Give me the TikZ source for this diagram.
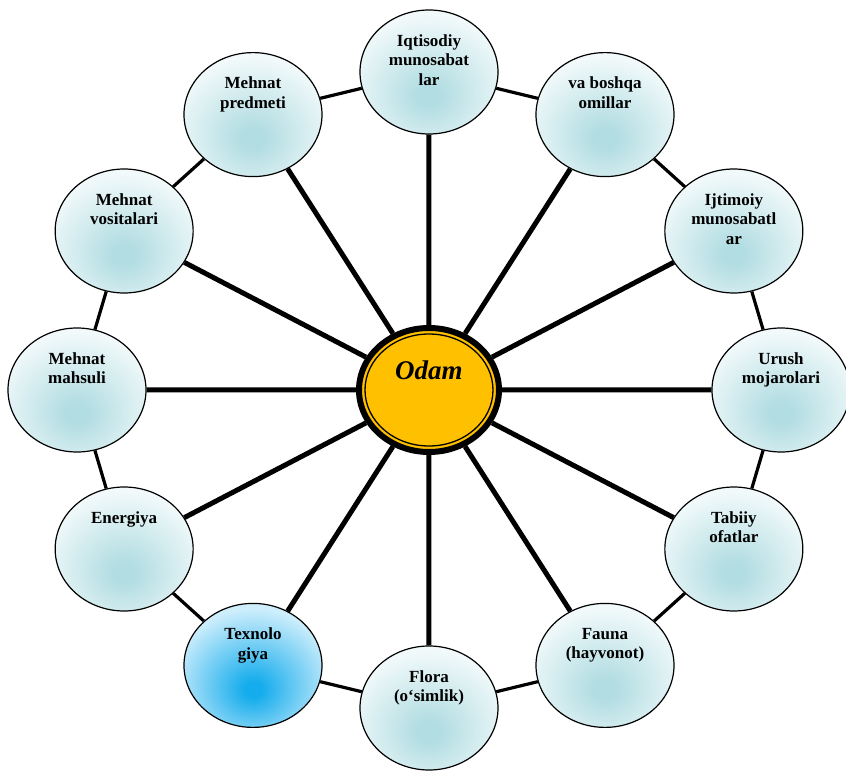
\documentclass[tikz,border=0pt]{standalone}
\usepackage{fontspec}
\setmainfont{Liberation Serif}
\usepackage{tikz}
\usetikzlibrary{calc,positioning,shapes.geometric}

\definecolor{odamgold}{RGB}{255,192,0}
\definecolor{glowteal}{RGB}{178,221,226}
\definecolor{paleteal}{RGB}{241,249,250}
\definecolor{glowblue}{RGB}{20,172,236}
\definecolor{paleblue}{RGB}{206,238,252}

\pgfdeclareradialshading{tealglow}{\pgfpoint{0bp}{-10bp}}{color(0bp)=(glowteal); color(4bp)=(glowteal); color(30bp)=(paleteal); color(100bp)=(paleteal)}
\pgfdeclareradialshading{blueglow}{\pgfpoint{0bp}{-10bp}}{color(0bp)=(glowblue); color(3bp)=(glowblue); color(30bp)=(paleblue); color(100bp)=(paleblue)}

\begin{document}
\begin{tikzpicture}[x=1pt, y=1pt, spoke/.style={draw=black, line width=5pt}, ring/.style={draw=black, line width=3.2pt}]
    % Define styles for the centre, the bubbles round it and their texts
    \tikzstyle{centre} = [ellipse, draw=black, fill=odamgold, line width=6pt, minimum width=140pt, minimum height=124pt, inner sep=0pt]
    \tikzstyle{bubble} = [ellipse, draw=black, line width=1.2pt, minimum width=138pt, minimum height=124pt, inner sep=0pt, shade, shading=tealglow]
    \tikzstyle{techbubble} = [bubble, shading=blueglow]
    \tikzstyle{bubbletext} = [font=\bfseries\fontsize{17}{19.5}\selectfont, align=center, inner sep=0pt]

    \useasboundingbox (-429,-381) rectangle (417,390);

    % Nodes placement
    \node [centre] (odam) at (0,0) {};
    \draw [line width=1.3pt] (odam.center) ellipse (64 and 56);
    \node [font=\bfseries\itshape\fontsize{27}{30}\selectfont, inner sep=0pt, above=10pt of odam.center] (odamtext) {Odam};

    \node [bubble] (iqtisod) at (90:352pt and 318pt) {};
    \node [bubble] (boshqa) at (60:352pt and 318pt) {};
    \node [bubble] (ijtimoiy) at (30:352pt and 318pt) {};
    \node [bubble] (urush) at (0:352pt and 318pt) {};
    \node [bubble] (tabiiy) at (-30:352pt and 318pt) {};
    \node [bubble] (fauna) at (-60:352pt and 318pt) {};
    \node [bubble] (flora) at (-90:352pt and 318pt) {};
    \node [techbubble] (texno) at (-120:352pt and 318pt) {};
    \node [bubble] (energiya) at (-150:352pt and 318pt) {};
    \node [bubble] (mahsuli) at (180:352pt and 318pt) {};
    \node [bubble] (vositalari) at (150:352pt and 318pt) {};
    \node [bubble] (predmeti) at (120:352pt and 318pt) {};

    % Texts in the bubbles
    \node [bubbletext, below=25pt of iqtisod.north] (iqtisodtext) {Iqtisodiy\\munosabat\\lar};
    \node [bubbletext, below=25pt of boshqa.north] (boshqatext) {va boshqa\\omillar};
    \node [bubbletext, below=25pt of ijtimoiy.north] (ijtimoiytext) {Ijtimoiy\\munosabatl\\ar};
    \node [bubbletext, below=25pt of urush.north] (urushtext) {Urush\\mojarolari};
    \node [bubbletext, below=25pt of tabiiy.north] (tabiiytext) {Tabiiy\\ofatlar};
    \node [bubbletext, below=25pt of fauna.north] (faunatext) {Fauna\\(hayvonot)};
    \node [bubbletext, below=25pt of flora.north] (floratext) {Flora\\(o‘simlik)};
    \node [bubbletext, below=25pt of texno.north] (texnotext) {Texnolo\\giya};
    \node [bubbletext, below=25pt of energiya.north] (energiyatext) {Energiya};
    \node [bubbletext, below=25pt of mahsuli.north] (mahsulitext) {Mehnat\\mahsuli};
    \node [bubbletext, below=25pt of vositalari.north] (vositalaritext) {Mehnat\\vositalari};
    \node [bubbletext, below=25pt of predmeti.north] (predmetitext) {Mehnat\\predmeti};

    % Draw spokes
    \draw [spoke] (odam) -- (iqtisod) (odam) -- (boshqa) (odam) -- (ijtimoiy) (odam) -- (urush);
    \draw [spoke] (odam) -- (tabiiy) (odam) -- (fauna) (odam) -- (flora) (odam) -- (texno);
    \draw [spoke] (odam) -- (energiya) (odam) -- (mahsuli) (odam) -- (vositalari) (odam) -- (predmeti);

    % Ring between neighbours
    \draw [ring] (iqtisod) -- (boshqa) (boshqa) -- (ijtimoiy) (ijtimoiy) -- (urush) (urush) -- (tabiiy);
    \draw [ring] (tabiiy) -- (fauna) (fauna) -- (flora) (flora) -- (texno) (texno) -- (energiya);
    \draw [ring] (energiya) -- (mahsuli) (mahsuli) -- (vositalari) (vositalari) -- (predmeti) (predmeti) -- (iqtisod);
\end{tikzpicture}
\end{document}
